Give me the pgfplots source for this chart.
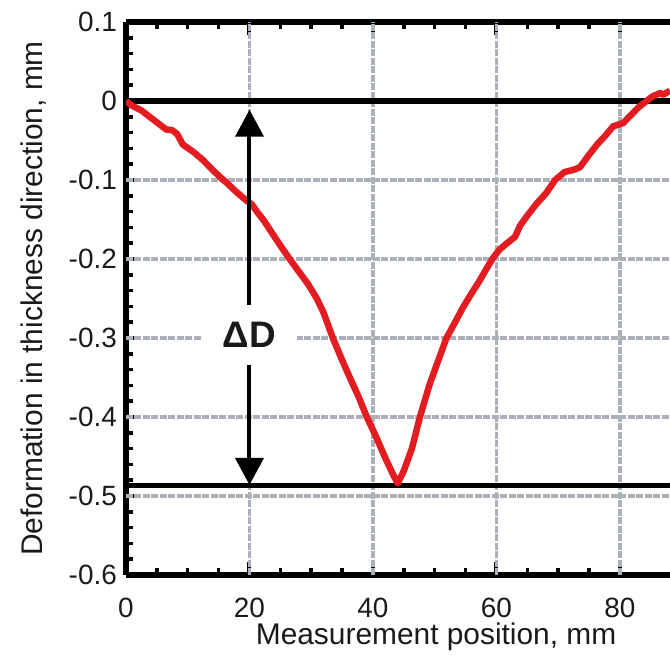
\documentclass[border=0pt]{standalone}
\usepackage{fontspec}
\setmainfont{Liberation Sans}
\usepackage{pgfplots}
\pgfplotsset{compat=1.18}
\usetikzlibrary{arrows.meta}
\definecolor{curvered}{RGB}{226,28,32}
\definecolor{gridgray}{RGB}{172,176,184}
\definecolor{ink}{RGB}{26,26,26}
\tikzset{gridline/.style={line width=3.2bp, draw=gridgray, dash pattern=on 7bp off 1.5bp}}

\begin{document}
\begin{tikzpicture}
\begin{axis}[
  scale only axis, width=544bp, height=553bp,
  xmin=0, xmax=88.1, ymin=-0.6, ymax=0.1,
  axis x line=box, axis y line=left,
  axis line style={line width=5.5bp, black, -},
  tick align=inside,
  /pgf/number format/assume math mode=true,
  xtick={0,20,40,60,80}, minor x tick num=3,
  ytick={-0.6,-0.5,-0.4,-0.3,-0.2,-0.1,0,0.1},
  yticklabels={-0.6,-0.5,-0.4,-0.3,-0.2,-0.1,0,0.1},
  minor y tick num=4,
  major tick length=13bp, minor tick length=7bp,
  major tick style={line width=4bp, black},
  minor tick style={line width=3.5bp, black},
  ticklabel style={font=\fontsize{28}{32}\selectfont, text=ink},
  xticklabel style={anchor=base, yshift=-42bp},
  yticklabel style={anchor=east, inner sep=0pt, xshift=-9bp},
  xlabel={Measurement position, mm},
  ylabel={Deformation in thickness direction, mm},
  label style={font=\fontsize{30}{34}\selectfont, text=ink},
  xlabel style={at={(axis description cs:0.570,-0.1248)}, anchor=base},
  ylabel style={at={(axis description cs:-0.1544,0.5)}, anchor=base, rotate=0},
]
  % grid, drawn by hand so that its width sticks
  \pgfplotsinvokeforeach{20,40,60,80}{
    \draw[gridline] (axis cs:#1,-0.6) -- (axis cs:#1,0.1);
  }
  \pgfplotsinvokeforeach{-0.5,-0.4,-0.3,-0.2,-0.1}{
    \draw[gridline] (axis cs:0,#1) -- (axis cs:88.1,#1);
  }

  % reference levels
  \draw[line width=5.5bp, black] (axis cs:0,0) -- (axis cs:88.1,0);
  \draw[line width=5.5bp, black] (axis cs:0,-0.487) -- (axis cs:88.1,-0.487);

  % measured profile
  \addplot[curvered, line width=6.5bp, line join=round] coordinates {
    (0,0) (1,-0.006) (2.5,-0.012) (4,-0.021) (5.5,-0.030) (6.5,-0.036)
    (7.5,-0.037) (8.3,-0.042) (9.2,-0.055) (11,-0.065) (12.5,-0.075)
    (14,-0.087) (15.2,-0.096) (16.5,-0.105) (18,-0.116) (19.5,-0.126)
    (20.4,-0.131) (21.2,-0.140) (22.3,-0.151) (23.3,-0.163) (25,-0.183)
    (26.6,-0.201) (28,-0.216) (29.5,-0.232) (30.9,-0.250) (32,-0.268)
    (33.5,-0.300) (35,-0.328) (36.3,-0.351) (37.7,-0.375) (39,-0.400)
    (40.5,-0.425) (42,-0.452) (43.2,-0.472) (44,-0.484) (45,-0.468)
    (46.3,-0.440) (47.6,-0.400) (49.2,-0.358) (50.5,-0.330) (51.9,-0.300)
    (53.3,-0.280) (54.6,-0.261) (56,-0.243) (57.3,-0.227) (58.4,-0.212)
    (59.5,-0.198) (60.5,-0.188) (61.7,-0.180) (63,-0.172) (63.8,-0.158)
    (65,-0.145) (66.5,-0.130) (68,-0.117) (69.5,-0.100) (71,-0.090)
    (72.5,-0.087) (73.5,-0.084) (75,-0.068) (76.3,-0.055) (77.5,-0.045)
    (78.9,-0.032) (80.5,-0.028) (81.5,-0.020) (83,-0.008) (84.3,0.000)
    (85.3,0.006) (86.5,0.010) (87,0.008) (88.1,0.013)
  };

  % Delta D annotation
  \draw[line width=4bp, black,
        {Triangle[width=28bp,length=27bp]}-{Triangle[width=28bp,length=27bp]}]
    (axis cs:20,-0.011) -- (axis cs:20,-0.486);
  \node[fill=white, inner sep=0pt, minimum width=95bp, minimum height=60bp,
        font=\bfseries\fontsize{37}{40}\selectfont, text=ink]
    at (axis cs:20,-0.296) {ΔD};
\end{axis}
\pgfresetboundingbox
\path[use as bounding box] (-126bp,-84bp) rectangle (544bp,575bp);
\end{tikzpicture}
\end{document}
